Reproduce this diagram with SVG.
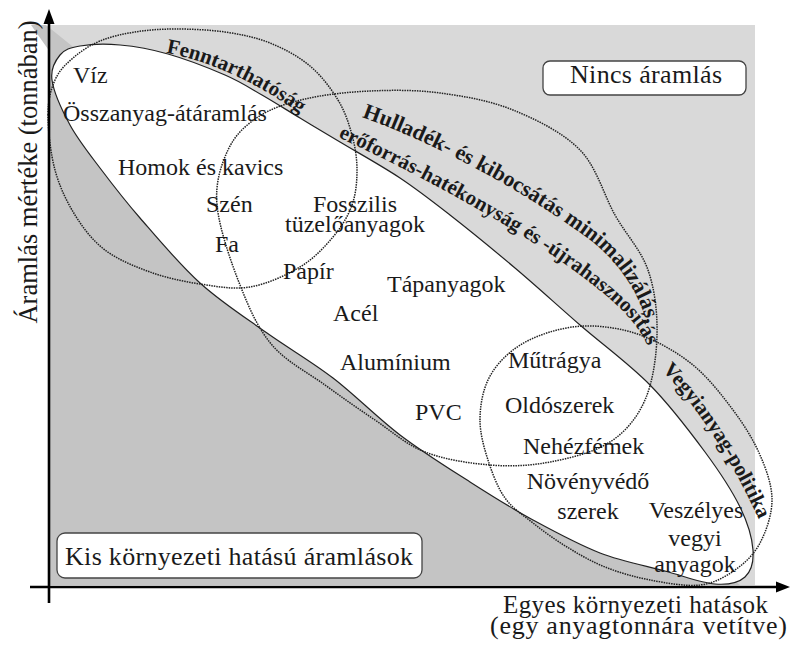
<svg xmlns="http://www.w3.org/2000/svg" width="790" height="648" viewBox="0 0 790 648">
<style>
.t{font-family:"Liberation Serif","Times New Roman",serif;font-size:24px;fill:#1a1a1a}
.b{font-family:"Liberation Serif","Times New Roman",serif;font-size:21px;font-weight:bold;fill:#1a1a1a}
.dot{fill:none;stroke:#222;stroke-width:1.5;stroke-dasharray:1.5 1}
.box{fill:#fff;stroke:#444;stroke-width:1.3}
.ax{stroke:#000;stroke-width:2.6;fill:none}
</style>
<defs>
<path id="pF" d="M 166,53 C 208,60 258,83 305,117"/>
<path id="pH1" d="M 362,117 C 440,145 530,195 590,240 C 622,265 642,298 648,330"/>
<path id="pH2" d="M 338,137 C 420,175 505,222 562,262 C 610,296 640,322 650,352"/>
<path id="pV" d="M 662,370 C 695,405 728,452 760,522"/>
</defs>
<g id="background">
<rect x="50" y="25" width="705" height="560" fill="#d9d9d9"/>
<polygon points="31,25 46,25 740,585 50,585 50,52" fill="#c4c4c4"/>
</g>
<g id="main-flow">
<path d="M 52,80 C 50.3,68.3 55.3,60.7 60,55 C 64.7,49.3 70,47.7 80,46 C 90,44.3 105.3,43.7 120,45 C 134.7,46.3 150.5,49 168,54 C 185.5,59 209.3,68.2 225,75 C 240.7,81.8 249.5,87.8 262,95 C 274.5,102.2 287,110.2 300,118 C 313,125.8 323.3,132 340,142 C 356.7,152 381.7,165.8 400,178 C 418.3,190.2 430.8,200 450,215 C 469.2,230 493.3,249.7 515,268 C 536.7,286.3 557.5,305.5 580,325 C 602.5,344.5 629.2,363.8 650,385 C 670.8,406.2 690,431.7 705,452 C 720,472.3 732,490.7 740,507 C 748,523.3 752.2,538.3 753,550 C 753.8,561.7 751.3,571.3 745,577 C 738.7,582.7 728.3,585 715,584 C 701.7,583 684.2,576.2 665,571 C 645.8,565.8 622,561.5 600,553 C 578,544.5 554.7,531.8 533,520 C 511.3,508.2 492.2,496.2 470,482 C 447.8,467.8 422.8,452.3 400,435 C 377.2,417.7 355.2,395 333,378 C 310.8,361 289.2,348.8 267,333 C 244.8,317.2 221.2,302.2 200,283 C 178.8,263.8 156.7,237.2 140,218 C 123.3,198.8 111.7,183.5 100,168 C 88.3,152.5 78,139.7 70,125 C 62,110.3 53.7,91.7 52,80 Z" fill="#fff" stroke="#222" stroke-width="1.2"/>
</g>
<g id="fenntarthatosag">
<path class="dot" d="M 48,115 C 48,100 50.8,89.5 55,80 C 59.2,70.5 65.5,64.5 73,58 C 80.5,51.5 89.7,45.3 100,41 C 110.3,36.7 122.5,34 135,32 C 147.5,30 160,29 175,29 C 190,29 209.2,29.7 225,32 C 240.8,34.3 255.8,37.3 270,43 C 284.2,48.7 298.7,56.5 310,66 C 321.3,75.5 331,88.5 338,100 C 345,111.5 348.8,123.3 352,135 C 355.2,146.7 357,158.3 357,170 C 357,181.7 356,193.8 352,205 C 348,216.2 341.7,226.7 333,237 C 324.3,247.3 313.8,258.7 300,267 C 286.2,275.3 266.7,284.2 250,287 C 233.3,289.8 216.7,286.5 200,284 C 183.3,281.5 165.8,277.7 150,272 C 134.2,266.3 117.5,259.5 105,250 C 92.5,240.5 83.3,228.3 75,215 C 66.7,201.7 59.5,186.7 55,170 C 50.5,153.3 48,130 48,115 Z"/>
<text class="b"><textPath href="#pF">Fenntarthatóság</textPath></text>
</g>
<g id="hulladek">
<path class="dot" d="M 217,205 C 215,182.5 221.2,164.7 228,150 C 234.8,135.3 245.2,125.5 258,117 C 270.8,108.5 286.3,103.3 305,99 C 323.7,94.7 347.5,92 370,91 C 392.5,90 416.2,89.8 440,93 C 463.8,96.2 489.7,100.5 513,110 C 536.3,119.5 563,132.5 580,150 C 597,167.5 603.7,195 615,215 C 626.3,235 641,250 648,270 C 655,290 657.5,313.3 657,335 C 656.5,356.7 652.8,382.2 645,400 C 637.2,417.8 625.8,431.7 610,442 C 594.2,452.3 570,458.2 550,462 C 530,465.8 510.8,466.7 490,465 C 469.2,463.3 444.2,459.5 425,452 C 405.8,444.5 391.7,431.2 375,420 C 358.3,408.8 342.2,397.5 325,385 C 307.8,372.5 286.2,361.7 272,345 C 257.8,328.3 249.2,308.3 240,285 C 230.8,261.7 219,227.5 217,205 Z"/>
<text class="b" style="font-size:22px"><textPath href="#pH1">Hulladék- és kibocsátás minimalizálás,</textPath></text>
<text class="b"><textPath href="#pH2">erőforrás-hatékonyság és -újrahasznosítás</textPath></text>
</g>
<g id="vegyianyag">
<path class="dot" d="M 480,420 C 480,406.7 482.5,391.7 488,380 C 493.5,368.3 502.7,358 513,350 C 523.3,342 536.7,336 550,332 C 563.3,328 577.5,325.3 593,326 C 608.5,326.7 626.3,329.5 643,336 C 659.7,342.5 678,352.7 693,365 C 708,377.3 721.8,395 733,410 C 744.2,425 753.5,440 760,455 C 766.5,470 772,485.3 772,500 C 772,514.7 766.2,531.3 760,543 C 753.8,554.7 745,563 735,570 C 725,577 714.2,583.3 700,585 C 685.8,586.7 665.8,583 650,580 C 634.2,577 618.8,572.5 605,567 C 591.2,561.5 579,554.3 567,547 C 555,539.7 543.3,531.2 533,523 C 522.7,514.8 512.5,508.5 505,498 C 497.5,487.5 492.2,473 488,460 C 483.8,447 480,433.3 480,420 Z"/>
<text class="b"><textPath href="#pV">Vegyianyag-politika</textPath></text>
</g>
<g id="materials">
<text class="t" x="73" y="83">Víz</text>
<text class="t" x="63" y="121">Összanyag-átáramlás</text>
<text class="t" x="118" y="175">Homok és kavics</text>
<text class="t" x="206" y="212">Szén</text>
<text class="t" x="215" y="252">Fa</text>
<text class="t" x="313" y="212">Fosszilis</text>
<text class="t" x="285" y="232">tüzelőanyagok</text>
<text class="t" x="283" y="279">Papír</text>
<text class="t" x="387" y="292">Tápanyagok</text>
<text class="t" x="333" y="321">Acél</text>
<text class="t" x="340" y="370">Alumínium</text>
<text class="t" x="415" y="420">PVC</text>
<text class="t" x="508" y="368">Műtrágya</text>
<text class="t" x="505" y="413">Oldószerek</text>
<text class="t" x="523" y="454">Nehézfémek</text>
<text class="t" x="588" y="489" text-anchor="middle">Növényvédő</text>
<text class="t" x="588" y="519" text-anchor="middle">szerek</text>
<text class="t" x="696" y="518" text-anchor="middle">Veszélyes</text>
<text class="t" x="695" y="546" text-anchor="middle">vegyi</text>
<text class="t" x="695" y="572" text-anchor="middle">anyagok</text>
</g>
<g id="no-flow">
<rect class="box" x="543" y="61" width="203" height="34" rx="7"/>
<text class="t" x="570" y="83" style="font-size:26px" textLength="152">Nincs áramlás</text>
</g>
<g id="low-impact">
<rect class="box" x="57" y="533" width="365" height="45" rx="8"/>
<text class="t" x="65" y="565" style="font-size:26px" textLength="348">Kis környezeti hatású áramlások</text>
</g>
<g id="connectors">
<line class="ax" x1="49" y1="603" x2="49" y2="22"/>
<polygon points="49,9 43.5,24 54.5,24" fill="#000"/>
<line class="ax" x1="30" y1="587" x2="778" y2="587"/>
<polygon points="790,587 776,581.5 776,592.5" fill="#000"/>
</g>
<g id="axis-labels">
<text class="t" transform="translate(37,172) rotate(-90)" text-anchor="middle" style="font-size:26.5px">Áramlás mértéke (tonnában)</text>
<text class="t" x="503" y="613" style="font-size:25px" textLength="265">Egyes környezeti hatások</text>
<text class="t" x="490" y="634" style="font-size:26px" textLength="297">(egy anyagtonnára vetítve)</text>
</g>
</svg>
